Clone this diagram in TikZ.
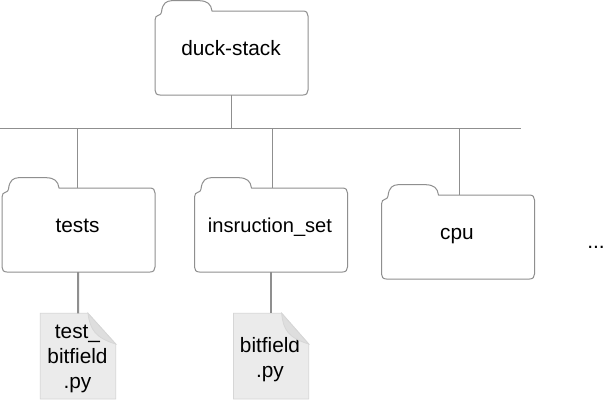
\documentclass[tikz,border=0pt]{standalone}
\usepackage{fontspec}
\setmainfont{Liberation Sans}
\definecolor{ln}{HTML}{8F8F8F}
\definecolor{docfill}{HTML}{EBEBEB}
\definecolor{docline}{HTML}{D6D6D6}
\definecolor{foldfill}{HTML}{DEDEDE}
\tikzset{
  folderbox/.style={minimum width=153pt,minimum height=84pt,inner sep=0pt},
  folderlabel/.style={inner sep=0pt,anchor=base,font=\fontsize{20.8}{24}\selectfont},
  folderline/.style={draw=ln,line width=1pt,fill=white,line join=round},
  link/.style={draw=ln,line width=1pt},
  heavylink/.style={draw=ln,line width=2pt},
  doctext/.style={font=\fontsize{20.8}{25.5}\selectfont,align=center,inner sep=0pt},
  docbody/.style={fill=docfill,draw=docline,line width=0.8pt},
  docfold/.style={fill=foldfill,draw=docline,line width=0.8pt},
}
% #1 name, #2 centre x, #3 centre y, #4 text, #5 text centre x, #6 text baseline y
\newcommand{\folderat}[6]{%
  \begin{scope}[shift={(#2,#3)}]
    \draw[folderline] (-76.5,-33) .. controls (-76.5,-36) and (-75,-37.5) .. (-72.5,-38)
      .. controls (-71,-38.4) and (-70.5,-39) .. (-70,-41)
      .. controls (-69,-50) and (-65,-52) .. (-60,-52.3)
      -- (-32,-52.3) .. controls (-24,-52) and (-20.5,-49) .. (-19.5,-42)
      -- (71.5,-42) .. controls (75,-42) and (76.5,-40) .. (76.5,-37)
      -- (76.5,37) .. controls (76.5,40) and (75,42) .. (71.5,42)
      -- (-71.5,42) .. controls (-75,42) and (-76.5,40) .. (-76.5,37) -- cycle;
  \end{scope}
  \node[folderbox] (#1) at (#2,#3) {};
  \node[folderlabel] (#1-label) at (#5,#6) {#4};
}
\begin{document}
\begin{tikzpicture}[x=1pt,y=-1pt]
\useasboundingbox[fill=white] (0,0) rectangle (612,400);
\coordinate (busL) at (0,128.5);
\coordinate (busR) at (521,128.5);
\draw[link] (busL) -- (busR);
\folderat{duck}{231.5}{53}{duck-stack}{231}{55}
\folderat{tests}{78.5}{230}{tests}{77.5}{232.5}
\folderat{insn}{271}{230}{\fontsize{20.1}{24}\selectfont insruction\_set}{270}{232.5}
\folderat{cpu}{458}{237}{cpu}{457}{239.5}
\coordinate (bus) at (0,128.5);
\draw[link] (duck.south) -- (duck.south |- bus);
\draw[link] ([xshift=-1pt]tests.north) -- ([xshift=-1pt]tests.north |- bus);
\draw[link] ([xshift=1pt]insn.north) -- ([xshift=1pt]insn.north |- bus);
\draw[link] ([xshift=1pt]cpu.north) -- ([xshift=1pt]cpu.north |- bus);
% first file
\draw[docbody] (40.3,313.3) -- (88,313.3) -- (115.7,344) -- (115.7,399) -- (40.3,399) -- cycle;
\node[doctext] (file1) at (77.5,359) {test\_\\[-1pt]bitfield\\.py};
\draw[docfold] (88,313.3) .. controls (90,330) and (96,338) .. (115.7,344) -- cycle;
\coordinate (file1top) at (78,313.3);
\draw[heavylink] ([xshift=-0.3pt]tests.south) -- (file1top);
% second file
\draw[docbody] (233.5,313.3) -- (281.7,313.3) -- (308.7,344) -- (308.7,399) -- (233.5,399) -- cycle;
\node[doctext] (file2) at (270,359.5) {bitfield\\.py};
\draw[docfold] (281.7,313.3) .. controls (283,330) and (289,338) .. (308.7,344) -- cycle;
\coordinate (file2top) at (270.5,313.3);
\draw[heavylink] ([xshift=-0.5pt]insn.south) -- (file2top);
\node[font=\fontsize{21}{24}\selectfont,inner sep=0pt,anchor=base] (more) at (596,248) {...};
\end{tikzpicture}
\end{document}
